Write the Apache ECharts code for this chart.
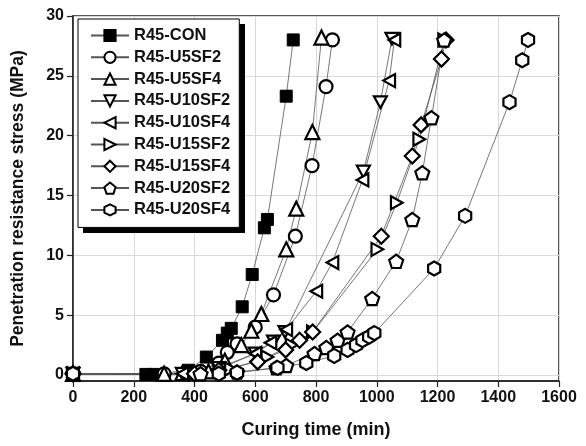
<!DOCTYPE html>
<html>
<head>
<meta charset="utf-8">
<script src="https://cdn.jsdelivr.net/npm/echarts@6/dist/echarts.min.js"></script>
<style>
  html, body { margin: 0; padding: 0; background: #fff; }
  #chart { width: 586px; height: 446px; }
</style>
</head>
<body>
<div id="chart"></div>
<script>
// curing time (min), penetration resistance (MPa)
var seriesNames = ["R45-CON", "R45-U5SF2", "R45-U5SF4", "R45-U10SF2", "R45-U10SF4",
  "R45-U15SF2", "R45-U15SF4", "R45-U20SF2", "R45-U20SF4"];

var dCON = [[0, 0.1], [240, 0.05], [265, 0.05], [380, 0.4], [439, 1.5], [492, 2.9], [508, 3.5],
  [521, 3.9], [557, 5.7], [590, 8.4], [630, 12.3], [640, 13.0], [702, 23.3], [725, 28.0]];
var dU5SF2 = [[0, 0.1], [300, 0.1], [420, 0.3], [480, 1.0], [508, 1.9], [540, 2.6], [600, 4.0],
  [660, 6.7], [732, 11.6], [787, 17.5], [833, 24.1], [854, 28.0]];
var dU5SF4 = [[0, 0.1], [300, 0.1], [360, 0.15], [446, 0.3], [500, 1.2], [554, 2.5], [587, 3.7],
  [620, 5.1], [702, 10.5], [735, 13.9], [788, 20.3], [818, 28.2]];
var dU10SF2 = [[0, 0.1], [360, 0.1], [480, 0.6], [600, 1.8], [660, 2.8], [698, 3.6],
  [956, 17.0], [1012, 22.8], [1050, 28.1]];
var dU10SF4 = [[0, 0.1], [360, 0.1], [480, 0.5], [600, 1.8], [650, 2.7], [702, 3.8], [801, 7.0],
  [854, 9.4], [953, 16.3], [1041, 24.6], [1058, 28.0]];
var dU15SF2 = [[0, 0.1], [400, 0.1], [520, 0.5], [640, 1.5], [720, 2.5], [790, 3.6],
  [1002, 10.5], [1066, 14.4], [1140, 19.7], [1222, 28.0]];
var dU15SF4 = [[0, 0.1], [400, 0.1], [480, 0.4], [608, 1.1], [700, 2.1], [746, 2.9], [789, 3.6],
  [1015, 11.6], [1117, 18.3], [1146, 20.9], [1213, 26.4], [1228, 28.0]];
var dU20SF2 = [[0, 0.1], [420, 0.1], [540, 0.25], [670, 0.6], [702, 0.8], [795, 1.8], [834, 2.3],
  [871, 2.9], [904, 3.6], [985, 6.4], [1064, 9.5], [1117, 13.0], [1150, 16.9], [1180, 21.5], [1222, 28.0]];
var dU20SF4 = [[0, 0.1], [480, 0.1], [540, 0.2], [673, 0.6], [768, 1.0], [860, 1.6], [904, 2.1],
  [932, 2.5], [953, 2.9], [975, 3.2], [992, 3.5], [1189, 8.9], [1291, 13.3], [1437, 22.8],
  [1479, 26.3], [1498, 28.0]];

var yTicks = [0, 5, 10, 15, 20, 25, 30];

var allData = [dCON, dU5SF2, dU5SF4, dU10SF2, dU10SF4, dU15SF2, dU15SF4, dU20SF2, dU20SF4];
var symbols = [
  "rect",
  "circle",
  "triangle",
  "path://M0,0L10,0L5,9Z",
  "path://M9,0L9,10L0,5Z",
  "path://M0,0L9,5L0,10Z",
  "diamond",
  "path://M5,0L10,3.8L8.1,9.5L1.9,9.5L0,3.8Z",
  "path://M5,0L9.33,2.5L9.33,7.5L5,10L0.67,7.5L0.67,2.5Z"
];
var sizes = [12, 13, 14, 13, 13, 13, 15, 14, 14];

var font = "Liberation Sans, Arial, sans-serif";

var chart = echarts.init(document.getElementById("chart"));

var series = seriesNames.map(function (name, i) {
  return {
    name: name,
    type: "line",
    data: allData[i],
    symbol: symbols[i],
    symbolSize: sizes[i],
    symbolKeepAspect: true,
    showAllSymbol: true,
    lineStyle: { color: "#555", width: 0.8 },
    itemStyle: {
      color: i === 0 ? "#000" : "#fff",
      borderColor: "#000",
      borderWidth: i === 0 ? 1 : 2.2
    },
    emphasis: { disabled: true },
    animation: false
  };
});

var option = {
  backgroundColor: "#fff",
  animation: false,
  grid: {
    left: 73, right: 27, top: 16, bottom: 65,
    show: true, borderColor: "#222", borderWidth: 1.5, backgroundColor: "transparent"
  },
  // legend box drop shadow
  graphic: [{
    type: "rect", left: 83, top: 24, z: 3,
    shape: { width: 162, height: 209 },
    style: { fill: "#000" }
  }],
  legend: {
    orient: "vertical",
    left: 78, top: 19, z: 5,
    padding: [8, 9, 9, 12],
    itemWidth: 38, itemHeight: 14, itemGap: 4.8,
    backgroundColor: "#fff",
    borderColor: "#000", borderWidth: 1,
    textStyle: { fontFamily: font, fontWeight: "bold", fontSize: 16.5, color: "#111" },
    data: seriesNames
  },
  xAxis: {
    type: "value",
    min: 0, max: 1600, interval: 200,
    name: "Curing time (min)",
    nameLocation: "middle",
    nameGap: 40,
    nameTextStyle: { fontFamily: font, fontWeight: "bold", fontSize: 18, color: "#111" },
    axisLine: { show: true, onZero: false, lineStyle: { color: "#222", width: 1.5 } },
    axisTick: { show: true, length: 6, lineStyle: { color: "#222", width: 1.2 } },
    axisLabel: {
      fontFamily: font, fontWeight: "bold", fontSize: 16, color: "#111", margin: 9,
      formatter: function (v) { return String(v); }
    },
    splitLine: { show: true, lineStyle: { color: "#d9d9d9", width: 1 } }
  },
  yAxis: {
    type: "value",
    min: -0.5, max: 30,
    name: "Penetration resistance stress (MPa)",
    nameLocation: "middle",
    nameGap: 46,
    nameTextStyle: { fontFamily: font, fontWeight: "bold", fontSize: 17.5, color: "#111" },
    axisLine: { show: true, onZero: false, lineStyle: { color: "#222", width: 1.5 } },
    axisTick: { show: true, length: 6, customValues: yTicks, lineStyle: { color: "#222", width: 1.2 } },
    axisLabel: { fontFamily: font, fontWeight: "bold", fontSize: 16, color: "#111", margin: 9, customValues: yTicks },
    splitLine: { show: true, lineStyle: { color: "#d9d9d9", width: 1 } }
  },
  series: series
};

chart.setOption(option);
</script>
</body>
</html>
